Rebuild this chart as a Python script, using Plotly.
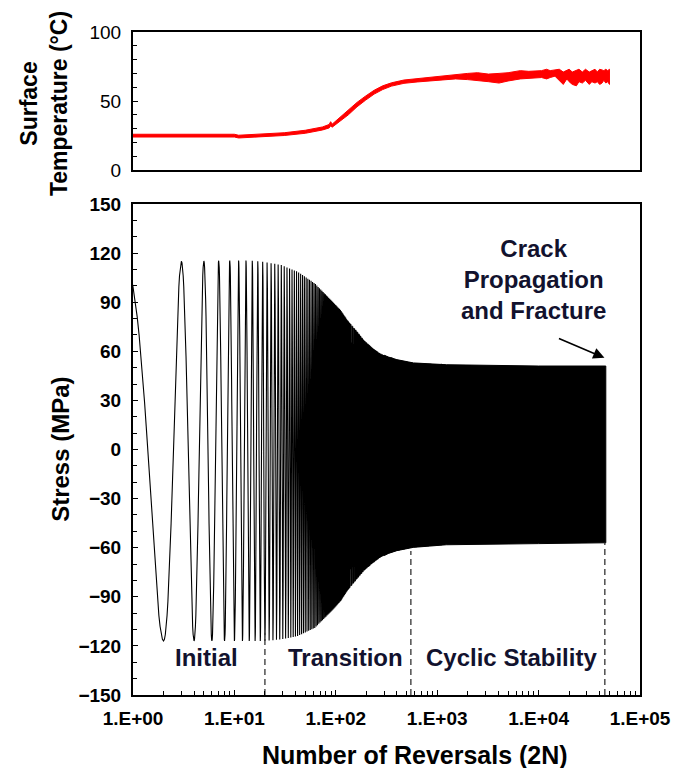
import numpy as np
import plotly.graph_objects as go

# ---------------- data ----------------
# stress envelope (MPa) vs number of reversals
env_x = [1, 3, 10, 14, 20, 29, 42, 62, 90, 112, 130, 160, 190, 230, 275, 330, 400, 582, 1230, 3000, 10000, 46000]
env_upper = [115, 115, 115.5, 115.5, 114.5, 112.7, 108.6, 101.5, 91.2, 85, 79, 72.5, 66.7, 62, 58.6, 56.5, 54.9,
             52.9, 51.8, 51.5, 51, 51]
env_lower = [-117, -117, -117, -117, -117, -116, -114, -109, -99, -92.5, -86.3, -79.5, -74, -69.5, -66, -63.5,
             -61.8, -59.8, -58.2, -58, -57.5, -57]
first_peak_x = 0.8      # first stress peak sits just before reversal 1
n_resolved = 1200       # reversals drawn as individual cycles; beyond that the band is solid

# surface temperature band (deg C)
temp_x = [1, 10, 11, 17, 31, 50, 74, 86, 89, 92, 109, 133, 162, 196, 239, 290, 355, 470, 635, 935,
          1520, 2000, 2500, 3200, 4070, 5000, 6600, 8000, 10700, 12000, 13000, 14500, 16000, 17500, 19000,
          20000, 21500, 23600, 25000, 27000, 29000, 31600, 33500, 36000, 38000, 40000, 42200, 44000, 46000,
          48000, 50000]
temp_lo = [23.9, 23.9, 23.2, 23.9, 25, 26.6, 29, 30.5, 32, 31, 35.5, 40, 45.8, 50.5, 55, 58.3, 60.8, 62.8, 63.8, 65,
           66, 65.5, 65, 64, 63, 64.5, 66, 66.5, 67, 66, 67, 68, 65, 62, 66,
           64, 62, 61, 64, 63, 65, 62, 64, 63, 64, 62, 63, 65, 63,
           64, 62]
temp_hi = [25.9, 25.9, 25.2, 25.9, 27, 28.8, 31.2, 33, 35, 33.2, 38, 43, 49, 53.5, 57.8, 61, 63.2, 65.2, 66.2, 67.8,
           69, 70, 70.5, 69.5, 70, 70.5, 72, 71.5, 72, 73, 72, 72.5, 73, 71, 72,
           73, 71, 72, 73, 71, 73, 71, 72, 73, 71, 73, 72.5, 72, 73,
           72, 73]

# stage dividers (reversals) and where each dashed line stops
div_x = [20, 550, 45000]
div_top = [-112, -62, -57]

x_tickvals = [1, 10, 100, 1000, 10000, 100000]
x_ticktext = ["1.E+00", "1.E+01", "1.E+02", "1.E+03", "1.E+04", "1.E+05"]
x_minor = [k * 10 ** d for d in range(5) for k in range(2, 10)]
stress_ticks = [-150, -120, -90, -60, -30, 0, 30, 60, 90, 120, 150]

# ---------------- build stress waveform ----------------
lx = np.log10(env_x)
ext_x = np.concatenate([[first_peak_x], np.arange(2, n_resolved + 1)])
ext_up = np.interp(np.log10(ext_x), lx, env_upper)
ext_lo = np.interp(np.log10(ext_x), lx, env_lower)
idx = np.arange(len(ext_x))
ext_v = np.where(idx % 2 == 0, ext_up, ext_lo)

wx, wy = [], []
for i in range(len(ext_x) - 1):
    x0, x1 = ext_x[i], ext_x[i + 1]
    v0, v1 = ext_v[i], ext_v[i + 1]
    n = 24 if x0 < 60 else 6
    t = np.linspace(0, 1, n, endpoint=False)
    wx.append(x0 + (x1 - x0) * t)
    wy.append((v0 + v1) / 2 + (v0 - v1) / 2 * np.cos(np.pi * t))
wx = np.concatenate(wx)
wy = np.concatenate(wy)

# solid band part (dense cycles)
band_start = 300
bx = [band_start] + [x for x in env_x if x > band_start]
bu = np.interp(np.log10(bx), lx, env_upper)
bl = np.interp(np.log10(bx), lx, env_lower)

FONT = "Liberation Sans, Arial, sans-serif"
TXT = "#12122e"

fig = go.Figure()

# temperature band (top panel)
fig.add_trace(go.Scatter(
    x=list(temp_x) + list(temp_x)[::-1], y=list(temp_hi) + list(temp_lo)[::-1],
    mode="lines", fill="toself", fillcolor="#ff0000",
    line=dict(color="#ff0000", width=1), xaxis="x2", yaxis="y2", hoverinfo="skip"))

# stress band + waveform (bottom panel)
fig.add_trace(go.Scatter(
    x=list(bx) + list(bx)[::-1], y=list(bu) + list(bl)[::-1],
    mode="lines", fill="toself", fillcolor="black",
    line=dict(color="black", width=1), xaxis="x", yaxis="y", hoverinfo="skip"))
fig.add_trace(go.Scatter(
    x=wx, y=wy, mode="lines", line=dict(color="black", width=1.1),
    xaxis="x", yaxis="y", hoverinfo="skip"))

for dx, dt in zip(div_x, div_top):
    fig.add_trace(go.Scatter(
        x=[dx, dx], y=[-150, dt], mode="lines",
        line=dict(color="#333333", width=1.3, dash="6px,4px"),
        xaxis="x", yaxis="y", hoverinfo="skip"))

# ---------------- layout ----------------
L, R, T, B = 133, 37, 32, 73
W, H = 683, 768
ph = H - T - B
pw = W - L - R


def px_x(p):
    return (p - L) / pw


def px_y(p):
    return (H - B - p) / ph


axis_common = dict(showline=True, linewidth=2, linecolor="black", mirror=True,
                   showgrid=False, zeroline=False)

fig.update_layout(
    width=W, height=H, autosize=False,
    margin=dict(l=L, r=R, t=T, b=B),
    paper_bgcolor="white", plot_bgcolor="white",
    showlegend=False,
    font=dict(family=FONT, color="black"),
    xaxis=dict(**axis_common, type="log", range=[0, 5], domain=[0, 1], anchor="y",
               tickvals=x_tickvals, ticktext=x_ticktext, ticks="inside", ticklen=5,
               tickwidth=1, tickcolor="black",
               minor=dict(tickvals=x_minor, ticks="inside", ticklen=4, tickcolor="black"),
               tickfont=dict(family=FONT, size=19, weight="bold", color="black"),
               ticklabelstandoff=5),
    yaxis=dict(**axis_common, range=[-150, 150], domain=[0, px_y(204)], anchor="x",
               tickvals=stress_ticks, ticks="inside", ticklen=5, tickcolor="black",
               minor=dict(dtick=10, ticks="inside", ticklen=4, tickcolor="black"),
               tickfont=dict(family=FONT, size=19, weight="bold", color="black"),
               ticklabelstandoff=6),
    xaxis2=dict(**axis_common, type="log", range=[0, 5], domain=[0, 1], anchor="y2",
                matches="x", showticklabels=False, ticks=""),
    yaxis2=dict(**axis_common, range=[0, 100], domain=[px_y(170), 1], anchor="x2",
                tickvals=[0, 50, 100], ticks="inside", ticklen=5, tickcolor="black",
                minor=dict(dtick=10, ticks="inside", ticklen=4, tickcolor="black"),
                tickfont=dict(family=FONT, size=19, color="black"),
                ticklabelstandoff=6),
)

ann = []
# axis titles
ann.append(dict(text="Surface<br>Temperature (°C)", textangle=-90, xref="paper", yref="paper",
                x=px_x(43), y=px_y(104), showarrow=False, xanchor="center", yanchor="middle",
                font=dict(family=FONT, size=23, weight="bold", color="black")))
ann.append(dict(text="Stress (MPa)", textangle=-90, xref="paper", yref="paper",
                x=px_x(59), y=px_y(449), showarrow=False, xanchor="center", yanchor="middle",
                font=dict(family=FONT, size=24, weight="bold", color="black")))
ann.append(dict(text="Number of Reversals (2N)", xref="paper", yref="paper",
                x=px_x(418), y=px_y(755), showarrow=False, xanchor="center", yanchor="middle",
                font=dict(family=FONT, size=25, weight="bold", color="black")))
# stage labels
for txt, cx in [("Initial", 207), ("Transition", 348), ("Cyclic Stability", 516)]:
    ann.append(dict(text=txt, xref="paper", yref="paper", x=px_x(cx), y=px_y(657),
                    showarrow=False, xanchor="center", yanchor="middle",
                    font=dict(family=FONT, size=24, weight="bold", color=TXT)))
ann.append(dict(text="Crack<br>Propagation<br>and Fracture", xref="paper", yref="paper",
                x=px_x(538), y=px_y(279), showarrow=False, xanchor="center", yanchor="middle",
                font=dict(family=FONT, size=24, weight="bold", color=TXT)))
# arrow pointing at fracture
ann.append(dict(text="", xref="x", yref="y", x=np.log10(44600), y=56,
                ax=-47, ay=-20, showarrow=True, arrowhead=2, arrowsize=1.4,
                arrowwidth=1.6, arrowcolor="black"))
fig.update_layout(annotations=ann)

fig.write_html("out.html")
